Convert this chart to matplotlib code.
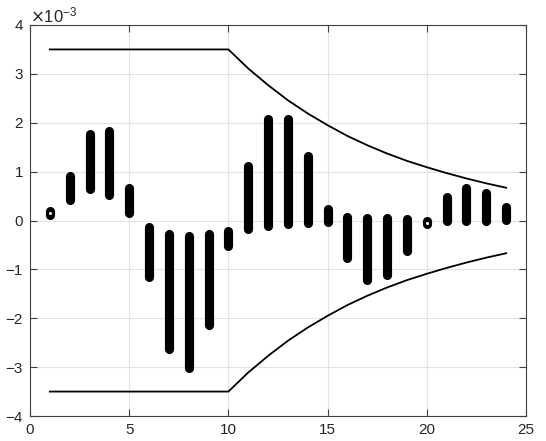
import numpy as np
import matplotlib.pyplot as plt

plt.rcParams['font.family'] = ['Liberation Sans', 'DejaVu Sans']

# lags and interval ends (units of 1e-3)
lags = np.arange(1, 25)
lo = [0.12, 0.41, 0.65, 0.52, 0.16, -1.15, -2.63, -3.02, -2.14, -0.53,
      -0.17, -0.11, -0.08, -0.05, -0.03, -0.77, -1.22, -1.12, -0.62, -0.065,
      -0.01, 0.00, 0.00, 0.02]
hi = [0.20, 0.91, 1.78, 1.84, 0.67, -0.125, -0.28, -0.32, -0.28, -0.21,
      1.11, 2.07, 2.08, 1.32, 0.24, 0.07, 0.045, 0.045, 0.025, -0.02,
      0.49, 0.67, 0.57, 0.28]

# bound curve
bound = [3.5, 3.5, 3.5, 3.5, 3.5, 3.5, 3.5, 3.5, 3.5, 3.5,
         3.11, 2.77, 2.46, 2.19, 1.95, 1.73, 1.54, 1.37, 1.22, 1.09,
         0.97, 0.86, 0.76, 0.67]

fig = plt.figure(figsize=(5.46, 4.41), dpi=100)
ax = fig.add_axes([30/546, 25/441, 496/546, 391/441])

for x, a, b in zip(lags, lo, hi):
    ax.plot([x, x], [a, b], color='black', lw=6.6, solid_capstyle='round')
    if b - a < 0.1:
        ax.plot(x, (a + b) / 2, 'o', color='white', ms=2.2, mew=0)

ax.plot(lags, bound, color='black', lw=1.3)
ax.plot(lags, -np.array(bound), color='black', lw=1.3)

ax.set_xlim(0, 25)
ax.set_ylim(-4, 4)
ax.set_xticks(range(0, 26, 5))
ax.set_yticks(range(-4, 5))
ax.grid(True, color='#e3e3e3', lw=0.8)
ax.set_axisbelow(True)
ax.tick_params(direction='in', length=5, width=0.8, top=True, right=True,
               labelsize=11, colors='#404040', labelcolor='#262626', pad=5)
for s in ax.spines.values():
    s.set_color('#404040')
    s.set_linewidth(0.8)

ax.text(0.0, 1.0, r'$\times\mathregular{10^{-3}}$', transform=ax.transAxes,
        fontsize=12, color='#262626', ha='left', va='bottom')

fig.savefig('out.png', dpi=100)
